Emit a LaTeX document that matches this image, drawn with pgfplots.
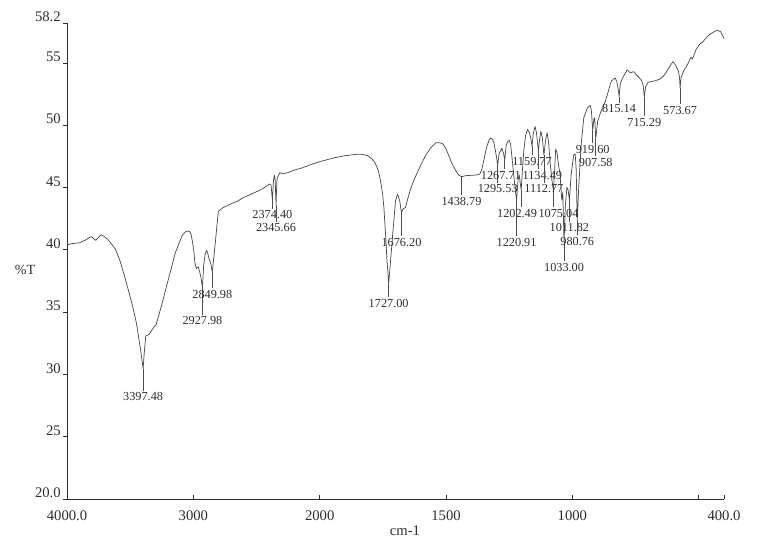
\documentclass[border=0pt]{standalone}
\usepackage{fontspec}
\setmainfont{Liberation Serif}
\usepackage{pgfplots}
\usepackage{pgfplotstable}
\pgfplotsset{compat=1.18}

\definecolor{ink}{gray}{0.18}
\definecolor{trace}{gray}{0.30}

% Piecewise wavenumber scale: 4000-2000 cm-1 at one unit per 1000,
% 2000-400 cm-1 expanded to one unit per 500.
\pgfmathdeclarefunction{wnpos}{1}{%
  \pgfmathparse{ifthenelse(#1>=2000,(4000-#1)/1000,2+(2000-#1)/500)}%
}

% IR transmission spectrum: wavenumber (cm-1), %T
\pgfplotstableread{
wn T
4000 40.4
3960 40.5
3906 40.55
3850 40.8
3826 40.97
3805 41.05
3790 40.9
3773 40.76
3750 41.0
3732 41.2
3710 41.1
3681 40.87
3650 40.5
3617 40.05
3580 39.1
3545 37.9
3510 36.6
3475 35.24
3450 34.1
3431 32.84
3415 31.8
3397.48 30.45
3388 31.8
3377 33.08
3351 33.2
3309 33.85
3295 33.98
3250 35.6
3204 37.39
3170 38.7
3143 39.75
3110 40.6
3086 41.2
3060 41.45
3045 41.52
3030 41.45
3019 41.3
3008 40.7
2997 39.97
2987 38.9
2976 38.5
2962 38.64
2950 38.23
2940 37.8
2927.98 37.0
2918 38.8
2907 39.6
2897 39.94
2888 39.8
2875 39.27
2862 38.9
2849.98 38.2
2840 39.2
2830 40.18
2815 41.76
2802 43.09
2770 43.35
2734 43.54
2700 43.7
2654 43.88
2600 44.21
2546 44.45
2466 44.82
2420 45.1
2399 45.28
2385 45.2
2374.40 44.0
2366 45.5
2360 46.0
2352 45.6
2345.66 43.6
2338 45.7
2316 46.2
2290 46.1
2250 46.2
2200 46.4
2143 46.56
2080 46.8
2009 47.05
1938 47.4
1900 47.55
1872 47.62
1850 47.67
1832 47.67
1810 47.55
1793 47.3
1780 46.95
1768 46.36
1760 45.6
1751 44.5
1746 43.4
1742 42.1
1738 40.8
1734 39.18
1730 38.2
1727.00 37.3
1722 38.5
1716 40.0
1711 41.29
1705 42.7
1700 43.93
1692 44.45
1687 44.2
1683 43.9
1679 43.3
1676.20 43.0
1670 43.3
1661 43.38
1650 44.2
1640 44.9
1624 45.74
1600 46.8
1581 47.56
1560 48.2
1540 48.59
1525 48.6
1513 48.5
1500 48.1
1490 47.6
1477 46.95
1460 46.3
1450 46.0
1438.79 45.87
1420 45.95
1399 45.98
1380 46.0
1366 46.08
1358 46.5
1351 47.14
1340 48.2
1330 48.8
1325 48.97
1318 48.9
1312 48.7
1305 48.0
1300 47.4
1295.53 46.8
1290 47.7
1279 48.15
1272 47.7
1267.71 47.2
1262 48.4
1255 48.7
1249 48.79
1244 48.4
1240 47.6
1232 46.0
1226 44.8
1220.91 44.0
1215 45.6
1210 46.0
1206 45.3
1202.49 44.8
1198 46.3
1192 48.0
1185 49.2
1178 49.66
1170 49.4
1165 49.0
1159.77 48.3
1155 49.3
1148 49.9
1142 49.4
1134.49 47.9
1130 48.8
1125 49.5
1119 49.0
1112.77 47.6
1106 48.8
1100 49.4
1094 48.6
1088 47.0
1081 45.6
1075.04 44.7
1070 46.5
1066 48.1
1061 47.8
1055 46.8
1049 46.1
1042 44.0
1038 44.6
1033.00 40.6
1028 43.5
1022 45.0
1017 44.8
1011.82 44.0
1005 46.0
995 47.6
989 47.7
985 46.5
980.76 42.3
975 45.0
965 48.5
955 50.6
941 51.36
930 51.6
925 51.2
919.60 49.6
915 50.5
912 50.6
907.58 48.9
900 50.3
888 51.06
870 51.9
859 52.63
850 53.3
845 53.55
831 53.8
824 53.5
818 52.8
815.14 52.3
810 53.4
798 53.91
783 54.43
771 54.2
758 54.3
745 54.0
735 53.8
726 53.59
720 53.2
715.29 52.3
710 53.1
700 53.45
673 53.56
653 53.7
640 53.93
630 54.2
619 54.58
602 55.1
591 54.8
580 54.3
576 53.8
573.67 53.0
570 53.8
559 54.4
546 54.8
531 55.45
525 55.3
510 56.1
496 56.49
483 56.7
466 57.13
449 57.38
428 57.63
413 57.5
400 56.95
}\spectrum

% peak marker: vertical drop line from the band minimum to its label,
% label centred at wavenumber #4
\newcommand\peakat[4]{%
  \draw[trace, line width=0.4pt] (axis cs:{wnpos(#1)},#2) -- (axis cs:{wnpos(#1)},#3+0.5);
  \node[text=ink, font=\fontsize{9.2}{10}\selectfont, inner sep=0pt]
    at (axis cs:{wnpos(#4)},#3) {#1};%
}
\newcommand\peak[3]{\peakat{#1}{#2}{#3}{#1}}

\begin{document}
\begin{tikzpicture}
\path[use as bounding box] (0,0) rectangle (585pt,408pt);
\begin{axis}[
  at={(50.25pt,33.75pt)}, anchor=south west,
  scale only axis, width=492.75pt, height=357pt,
  xmin=0, xmax=5.2, ymin=20, ymax=58.2,
  axis lines=left, axis line style={-, ink, line width=0.6pt},
  clip=false,
  xtick={0,1,2,3,4,5,5.2},
  xticklabels={4000.0,3000,2000,1500,1000,,400.0},
  ytick={20,25,30,35,40,45,50,55,58.2},
  yticklabels={20.0,25,30,35,40,45,50,55,58.2},
  tick align=inside, major tick length=3pt,
  tick style={ink, line width=0.5pt},
  ytick style={xshift=-3pt},
  /pgf/number format/assume math mode=true,
  ticklabel style={text=ink, font=\fontsize{11}{12}\selectfont, inner sep=0pt},
  xticklabel style={anchor=north, yshift=-8.5pt},
  yticklabel style={anchor=base east, xshift=-4.5pt, yshift=1pt},
]
\addplot[trace, line width=0.55pt, line join=round, mark=none]
  table[x expr={wnpos(\thisrow{wn})}, y=T] {\spectrum};

\peak{3397.48}{30.45}{28.2}
\peak{2927.98}{37.0}{34.3}
\peak{2849.98}{38.2}{36.4}
\peak{2374.40}{44.0}{42.8}
\peak{2345.66}{43.6}{41.75}
\peak{1727.00}{37.3}{35.7}
\peak{1676.20}{43.0}{40.6}
\peak{1438.79}{45.87}{43.9}
\peak{1295.53}{46.8}{44.9}
\peakat{1267.71}{47.2}{45.95}{1283}
\peak{1220.91}{44.0}{40.6}
\peakat{1202.49}{44.8}{42.9}{1219}
\peak{1159.77}{48.3}{47.1}
\peakat{1134.49}{47.9}{45.95}{1119}
\peak{1112.77}{47.6}{44.9}
\peakat{1075.04}{44.7}{42.9}{1055}
\peak{1033.00}{40.6}{38.6}
\peak{1011.82}{44.0}{41.75}
\peak{980.76}{42.3}{40.65}
\peak{919.60}{49.6}{48.05}
\peak{907.58}{48.9}{47.0}
\peak{815.14}{52.3}{51.3}
\peak{715.29}{52.3}{50.2}
\peak{573.67}{53.0}{51.2}
\end{axis}
\node[text=ink, font=\fontsize{10.5}{12}\selectfont] at (18.75pt,205.5pt) {\%T};
\node[text=ink, font=\fontsize{11}{12}\selectfont] at (303.75pt,9.75pt) {cm-1};
\end{tikzpicture}
\end{document}
